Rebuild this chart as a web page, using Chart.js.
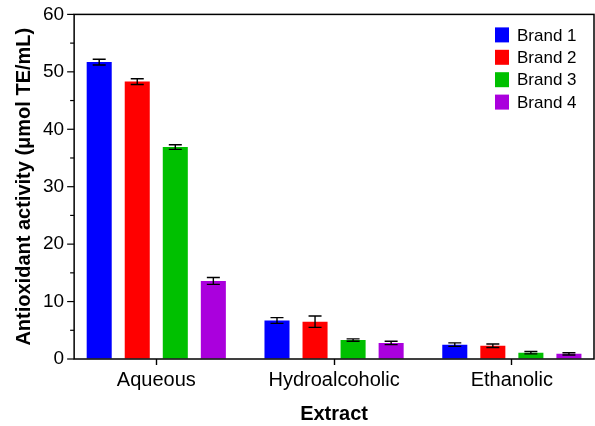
<!DOCTYPE html>
<html>
<head>
<meta charset="utf-8">
<script src="https://cdn.jsdelivr.net/npm/chart.js@4/dist/chart.umd.min.js"></script>
<style>
  body { margin: 0; background: #fff; }
  #wrap { width: 595px; height: 426px; }
</style>
</head>
<body>
<div id="wrap"><canvas id="extractChart"></canvas></div>
<script>
const categories = ['Aqueous', 'Hydroalcoholic', 'Ethanolic'];
const brands = ['Brand 1', 'Brand 2', 'Brand 3', 'Brand 4'];

// mean values per brand (Aqueous, Hydroalcoholic, Ethanolic)
const brand1 = [51.7, 6.7, 2.5];
const brand2 = [48.3, 6.5, 2.3];
const brand3 = [36.9, 3.3, 1.1];
const brand4 = [13.6, 2.8, 0.9];

// error bar half-heights
const brand1Err = [0.5, 0.5, 0.3];
const brand2Err = [0.5, 1.0, 0.3];
const brand3Err = [0.4, 0.2, 0.2];
const brand4Err = [0.6, 0.3, 0.2];

const yTicks = [0, 10, 20, 30, 40, 50, 60];

const colors = ['#0000ff', '#ff0000', '#00c000', '#aa00dd'];
const FONT = '"Liberation Sans", Arial, sans-serif';

const values = [brand1, brand2, brand3, brand4];
const errors = [brand1Err, brand2Err, brand3Err, brand4Err];

const datasets = brands.map((name, d) => ({
    label: name,
    data: categories.map((c, i) => ({ x: i, y: values[d][i] })),
    errors: errors[d],
    backgroundColor: colors[d],
    borderWidth: 0,
    categoryPercentage: 0.856,
    barPercentage: 0.658
}));

// frame round the plot + short minor ticks on y
const framePlugin = {
    id: 'frame',
    afterDraw(chart) {
        const { ctx, chartArea: a, scales } = chart;
        ctx.save();
        ctx.strokeStyle = '#000';
        ctx.lineWidth = 1.5;
        ctx.strokeRect(a.left, a.top, a.right - a.left, a.bottom - a.top);
        ctx.lineWidth = 1.2;
        for (let v = 0; v <= 60; v += 5) {
            const y = scales.y.getPixelForValue(v);
            const len = v % 10 === 0 ? 7 : 4;
            ctx.beginPath();
            ctx.moveTo(a.left - len, y);
            ctx.lineTo(a.left, y);
            ctx.stroke();
        }
        ctx.restore();
    }
};

const errorBarPlugin = {
    id: 'errorBars',
    afterDatasetsDraw(chart) {
        const { ctx, scales } = chart;
        ctx.save();
        ctx.strokeStyle = '#000';
        ctx.lineWidth = 1.4;
        chart.data.datasets.forEach((ds, d) => {
            const meta = chart.getDatasetMeta(d);
            meta.data.forEach((bar, i) => {
                const v = ds.data[i].y;
                const e = ds.errors[i];
                const yTop = scales.y.getPixelForValue(v + e);
                const yBot = scales.y.getPixelForValue(v - e);
                const cap = 6.5;
                ctx.beginPath();
                ctx.moveTo(bar.x, yTop); ctx.lineTo(bar.x, yBot);
                ctx.moveTo(bar.x - cap, yTop); ctx.lineTo(bar.x + cap, yTop);
                ctx.moveTo(bar.x - cap, yBot); ctx.lineTo(bar.x + cap, yBot);
                ctx.stroke();
            });
        });
        ctx.restore();
    }
};

const legendPlugin = {
    id: 'boxLegend',
    afterDraw(chart) {
        const { ctx, chartArea: a } = chart;
        ctx.save();
        ctx.font = '17px ' + FONT;
        ctx.textBaseline = 'middle';
        ctx.fillStyle = '#000';
        chart.data.datasets.forEach((ds, d) => {
            const cy = a.top + 20.5 + d * 22.4;
            ctx.fillStyle = ds.backgroundColor;
            ctx.fillRect(a.right - 99, cy - 7.5, 14, 15);
            ctx.fillStyle = '#000';
            ctx.fillText(ds.label, a.right - 77, cy + 1);
        });
        ctx.restore();
    }
};

new Chart(document.getElementById('extractChart'), {
    type: 'bar',
    data: { datasets },
    options: {
        responsive: true,
        maintainAspectRatio: false,
        animation: false,
        layout: { padding: { top: 14, right: 1, left: 2, bottom: 0 } },
        plugins: {
            legend: { display: false },
            tooltip: { enabled: false }
        },
        scales: {
            x: {
                type: 'linear',
                min: -0.462,
                max: 2.462,
                offset: false,
                afterBuildTicks: (axis) => { axis.ticks = categories.map((c, i) => ({ value: i })); },
                border: { display: false },
                grid: { offset: false, drawOnChartArea: false, tickLength: 6, tickColor: '#000', tickWidth: 1.4 },
                ticks: {
                    color: '#000',
                    font: { family: FONT, size: 20 },
                    padding: 3,
                    maxRotation: 0,
                    autoSkip: false,
                    callback: (v) => categories[v] ?? ''
                },
                title: {
                    display: true,
                    text: 'Extract',
                    color: '#000',
                    font: { family: FONT, size: 20, weight: 'bold' },
                    padding: { top: 7, bottom: 0 }
                }
            },
            y: {
                min: 0,
                max: 60,
                afterBuildTicks: (axis) => { axis.ticks = yTicks.map(v => ({ value: v })); },
                border: { display: false },
                grid: { drawOnChartArea: false, tickLength: 7, tickColor: 'rgba(0,0,0,0)' },
                ticks: {
                    color: '#000',
                    font: { family: FONT, size: 19 },
                    padding: 3
                },
                title: {
                    display: true,
                    text: 'Antioxidant activity (μmol TE/mL)',
                    color: '#000',
                    font: { family: FONT, size: 20, weight: 'bold' },
                    padding: { top: 10, bottom: 4 }
                }
            }
        }
    },
    plugins: [framePlugin, errorBarPlugin, legendPlugin]
});
</script>
</body>
</html>
